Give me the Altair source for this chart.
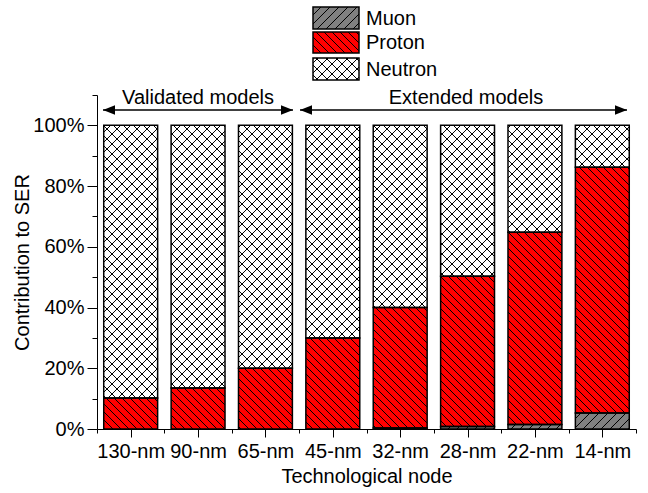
import math
import json
import pandas as pd
import altair as alt

# ---------------- data ----------------
categories = ["130-nm", "90-nm", "65-nm", "45-nm", "32-nm", "28-nm", "22-nm", "14-nm"]
muon = [0.0, 0.0, 0.0, 0.0, 0.3, 0.8, 1.5, 5.3]
proton = [10.2, 13.5, 20.0, 30.0, 39.7, 49.5, 63.3, 80.9]
series = ["Muon", "Proton", "Neutron"]
series_colors = ["#808080", "#ff0000", "#ffffff"]
group_labels = ["Validated models", "Extended models"]
y_tick_values = list(range(0, 111, 10))

# ---------------- layout constants ----------------
FONT = "Liberation Sans"
W, H = 539, 334           # plot area
PL, PT = 97, 95           # padding left/top
XPX = W / 8.0             # px per category unit
YPX = H / 110.0           # px per percent
BAR_HALF = 0.4
SPACING = {"Muon": 9, "Proton": 8, "Neutron": 10}
KINDS = {"Muon": ["fwd"], "Proton": ["back"], "Neutron": ["back", "fwd"]}


def px_to_x(px):
    return (px - PL) / XPX - 0.5


def py_to_y(py):
    return (PT + H - py) / YPX


def hatch(x0, x1, y0, y1, sp, kind):
    u0, u1 = (x0 + 0.5) * XPX, (x1 + 0.5) * XPX
    v0, v1 = y0 * YPX, y1 * YPX
    segs = []
    if kind == "back":  # u + v = c
        for k in range(math.ceil((u0 + v0) / sp), math.floor((u1 + v1) / sp) + 1):
            c = k * sp
            ua, ub = max(u0, c - v1), min(u1, c - v0)
            if ub - ua > 0.3:
                segs.append((ua, c - ua, ub, c - ub))
    else:  # v - u = c
        for k in range(math.ceil((v0 - u1) / sp), math.floor((v1 - u0) / sp) + 1):
            c = k * sp
            ua, ub = max(u0, v0 - c), min(u1, v1 - c)
            if ub - ua > 0.3:
                segs.append((ua, c + ua, ub, c + ub))
    return [
        {"x": a / XPX - 0.5, "y": b / YPX, "x2": cc / XPX - 0.5, "y2": d / YPX}
        for a, b, cc, d in segs
    ]


# ---------------- build tables ----------------
rects = []
for i, cat in enumerate(categories):
    m, p = muon[i], proton[i]
    parts = [("Muon", 0.0, m), ("Proton", m, m + p), ("Neutron", m + p, 100.0)]
    for s, a, b in parts:
        if b - a > 0:
            rects.append({"x": i - BAR_HALF, "x2": i + BAR_HALF, "y": a, "y2": b, "series": s})

# legend swatches (pixel layout -> data units)
leg_x0, leg_x1 = 313, 359
leg_rows = [(7, 29), (32, 53), (58, 80)]
legend_text = []
for s, (t, b) in zip(series, leg_rows):
    rects.append({"x": px_to_x(leg_x0), "x2": px_to_x(leg_x1), "y": py_to_y(b), "y2": py_to_y(t), "series": s})
    legend_text.append({"x": px_to_x(366), "y": py_to_y((t + b) / 2 + 0.5), "text": s})

rect_df = pd.DataFrame(rects)

lines = []
for r in rects:
    for kind in KINDS[r["series"]]:
        lines += hatch(r["x"], r["x2"], r["y"], r["y2"], SPACING[r["series"]], kind)
line_df = pd.DataFrame(lines)

leg_df = pd.DataFrame(legend_text)

# annotations (group arrows)
arrow_px = [(103, 293), (300, 627)]
text_cx = [198, 466]
ARROW_Y = py_to_y(110)
TEXT_Y = py_to_y(104)
arrow_df = pd.DataFrame(
    [{"x": px_to_x(a), "x2": px_to_x(b), "y": ARROW_Y} for a, b in arrow_px]
)
head_df = pd.DataFrame(
    [{"x": px_to_x(a), "y": ARROW_Y, "dir": "L"} for a, b in arrow_px]
    + [{"x": px_to_x(b), "y": ARROW_Y, "dir": "R"} for a, b in arrow_px]
)
gtext_df = pd.DataFrame(
    [{"x": px_to_x(c), "y": TEXT_Y, "text": t} for c, t in zip(text_cx, group_labels)]
)

# ---------------- scales & axes ----------------
xs = alt.Scale(domain=[-0.5, 7.5], nice=False, zero=False)
ys = alt.Scale(domain=[0, 110], nice=False, zero=False)

x_axis = alt.Axis(
    values=[0.5 * k - 0.5 for k in range(17)],
    title="Technological node",
    labelExpr="datum.value % 1 == 0 ? " + json.dumps(categories) + "[datum.value] : ''",
    tickSize={"condition": {"test": "datum.value % 1 == 0", "value": 8}, "value": 4},
    labelOverlap=False,
    labelFlush=False,
    grid=False,
    domainColor="black",
    tickColor="black",
    labelColor="black",
    titleColor="black",
    labelFont=FONT,
    titleFont=FONT,
    labelFontSize=20,
    titleFontSize=20,
    titleFontWeight="normal",
    labelPadding=4,
    titlePadding=5,
)
y_axis = alt.Axis(
    values=y_tick_values,
    title="Contribution to SER",
    labelExpr="datum.value % 20 == 0 ? datum.value + '%' : ''",
    tickSize={"condition": {"test": "datum.value % 20 == 0", "value": 10}, "value": 5},
    labelOverlap=False,
    grid=False,
    domainColor="black",
    tickColor="black",
    labelColor="black",
    titleColor="black",
    labelFont=FONT,
    titleFont=FONT,
    labelFontSize=20,
    titleFontSize=20,
    titleFontWeight="normal",
    labelPadding=3,
    titlePadding=0,
)


def X(f="x"):
    return alt.X(f, type="quantitative", scale=xs, axis=x_axis)


def Y(f="y"):
    return alt.Y(f, type="quantitative", scale=ys, axis=y_axis)


fill_layer = alt.Chart(rect_df).mark_rect(strokeWidth=0).encode(
    x=X(), x2="x2", y=Y(), y2="y2",
    color=alt.Color("series:N", scale=alt.Scale(domain=series, range=series_colors), legend=None),
)
hatch_layer = alt.Chart(line_df).mark_rule(color="black", strokeWidth=1).encode(
    x=X(), x2="x2", y=Y(), y2="y2"
)
outline_layer = alt.Chart(rect_df).mark_rect(
    fillOpacity=0, stroke="black", strokeWidth=1.5
).encode(x=X(), x2="x2", y=Y(), y2="y2")

legend_layer = alt.Chart(leg_df).mark_text(
    align="left", baseline="middle", font=FONT, fontSize=20, color="black"
).encode(x=X(), y=Y(), text="text:N")

arrow_layer = alt.Chart(arrow_df).mark_rule(color="black", strokeWidth=1.5).encode(
    x=X(), x2="x2", y=Y()
)
head_layer = alt.Chart(head_df).mark_point(filled=True, color="black", opacity=1, size=144).encode(
    x=X(), y=Y(),
    shape=alt.Shape(
        "dir:N",
        scale=alt.Scale(domain=["L", "R"], range=["M0,0L2,-0.8L2,0.8Z", "M0,0L-2,-0.8L-2,0.8Z"]),
        legend=None,
    ),
)
gtext_layer = alt.Chart(gtext_df).mark_text(
    align="center", baseline="alphabetic", font=FONT, fontSize=20, color="black"
).encode(x=X(), y=Y(), text="text:N")

chart = (
    alt.layer(fill_layer, hatch_layer, outline_layer, legend_layer, arrow_layer, head_layer, gtext_layer)
    .properties(
        width=W,
        height=H,
        autosize=alt.AutoSizeParams(type="none"),
        padding={"left": PL, "top": PT, "right": 648 - PL - W, "bottom": 493 - PT - H},
        background="white",
    )
    .configure_view(stroke=None)
)

chart.save("out.html", embed_options={"renderer": "svg", "actions": False})
